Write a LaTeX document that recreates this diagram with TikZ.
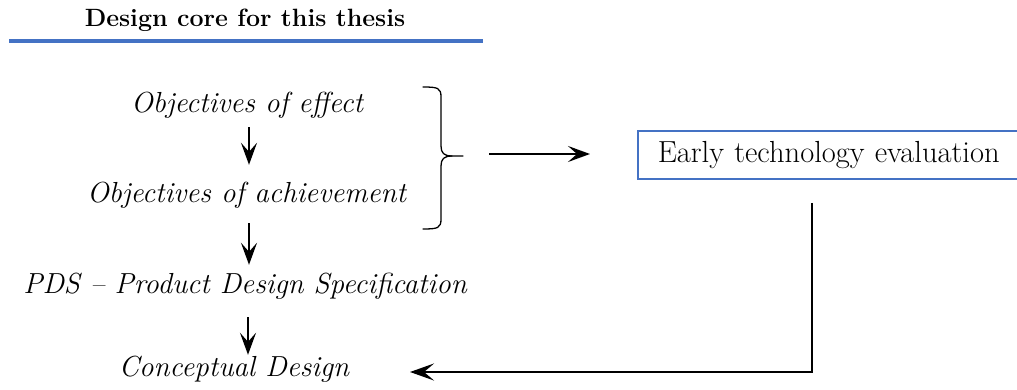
\documentclass[tikz,border=0pt]{standalone}
\usetikzlibrary{arrows.meta}
\definecolor{officeblue}{HTML}{4472C4}
\newcommand\mainsize{\fontsize{29}{34}\selectfont}
\newcommand\boxsize{\fontsize{30.5}{36}\selectfont}
\newcommand\titlesize{\fontsize{25}{30}\selectfont}
\tikzset{
  itnode/.style={inner sep=0pt, anchor=base, font=\mainsize\itshape, text height=19pt, text depth=6pt},
  arr/.style={line width=2.2pt, -{Stealth[length=22pt,width=16pt,inset=9pt]}},
  brace/.style={line width=1.3pt, line cap=round, line join=round},
  elbow/.style={line width=2.8pt, -{Stealth[length=24pt,width=17pt,inset=10pt]}},
  evalbox/.style={draw=officeblue, line width=1.5pt, anchor=west, minimum height=48pt, inner sep=0pt, text width=420pt, align=left, font=\boxsize}
}
\begin{document}
\begin{tikzpicture}[x=1pt,y=-1pt]
\useasboundingbox (0,0) rectangle (1017,390);
\clip (0,0) rectangle (1017,390);
% title
\node[inner sep=0pt, anchor=base, font=\titlesize\bfseries] (title) at (245,27) {Design core for this thesis};
\coordinate (bl1) at (9,41);
\coordinate (bl2) at (483,41);
\draw[officeblue, line width=4pt] (bl1) -- (bl2);
% left column
\node[itnode] (oe) at (247,113) {Objectives of effect};
\node[itnode] (oa) at (246.5,203) {Objectives of achievement};
\node[itnode] (pds) at (245,293) {PDS -- Product Design Specification};
\node[itnode] (cd) at (234,376) {Conceptual Design};
\draw[arr, shorten <=8pt, shorten >=19pt] ([xshift=2pt]oe.south) -- ([xshift=2pt]oe.south |- oa.north);
\draw[arr, shorten <=14pt, shorten >=9pt] ([xshift=2.5pt]oa.south) -- ([xshift=2.5pt]oa.south |- pds.north);
\draw[arr, shorten <=18pt, shorten >=2pt] ([xshift=3pt]pds.south) -- ([xshift=3pt]pds.south |- cd.north);
% brace
\coordinate (bt) at (423,87);
\coordinate (bb) at (423,229);
\coordinate (btip) at (463,156);
\draw[brace] (bt) .. controls (438,87) and (441,88) .. (441,97) -- (441,146)
  .. controls (441,153) and (444,156) .. (452,156) -- (btip);
\draw[brace] (bb) .. controls (438,229) and (441,228) .. (441,219) -- (441,166)
  .. controls (441,159) and (444,156) .. (452,156);
% right arrow
\coordinate (ra1) at (489,154);
\coordinate (ra2) at (590,154);
\draw[arr] (ra1) -- (ra2);
% box
\node[evalbox] (ete) at (637,155) {\hspace*{20pt}Early technology evaluation};
% elbow
\coordinate (el1) at (812,203);
\coordinate (el2) at (812,372);
\coordinate (el3) at (410,372);
\draw[elbow] (el1) -- (el2) -- (el3);
\end{tikzpicture}
\end{document}
